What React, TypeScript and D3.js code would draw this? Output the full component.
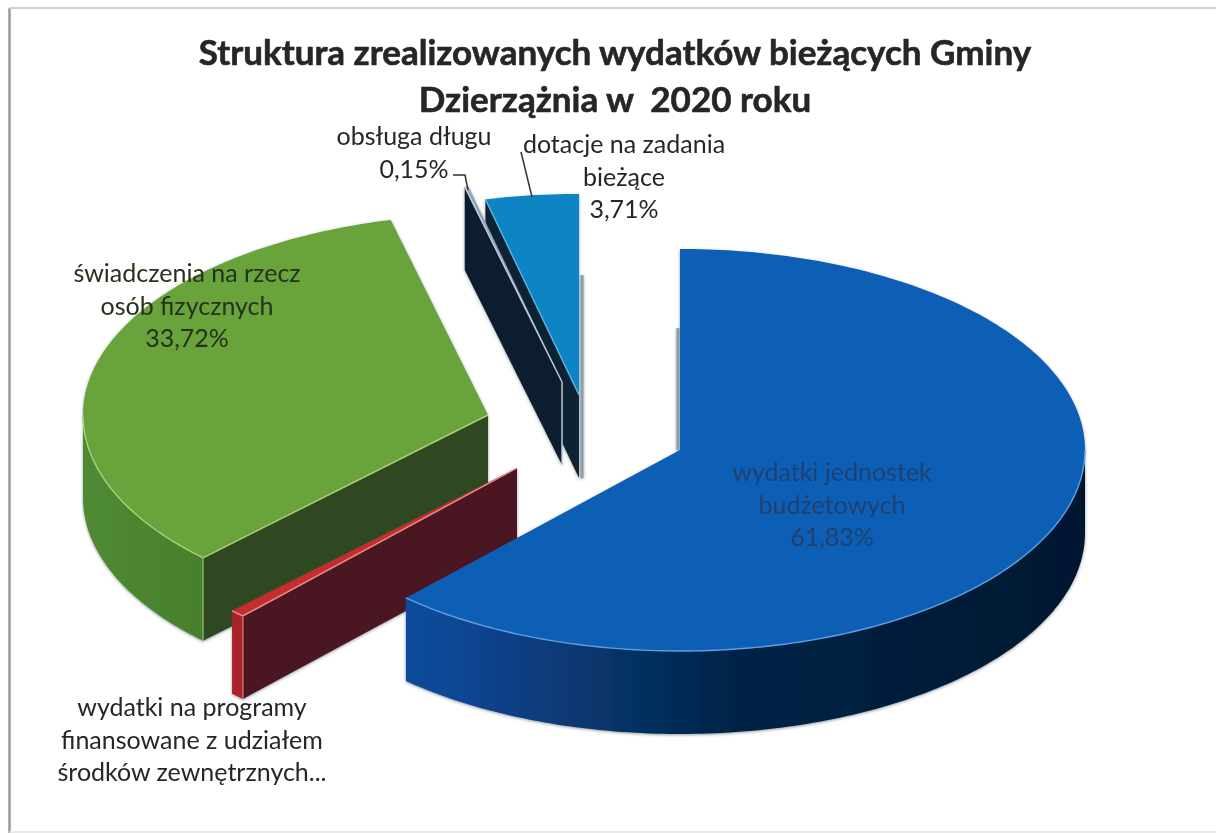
import * as d3 from 'd3';

// values (red one has no visible percent, it's the remainder)
const categories = [
  'wydatki jednostek budżetowych',
  'wydatki na programy finansowane z udziałem środków zewnętrznych...',
  'świadczenia na rzecz osób fizycznych',
  'obsługa długu',
  'dotacje na zadania bieżące',
];
const values = [61.83, 0.59, 33.72, 0.15, 3.71];
const titleLines = ['Struktura zrealizowanych wydatków bieżących Gminy', 'Dzierzążnia w  2020 roku'];

// layout
const width = 1216;
const height = 833;
const rx = 405;
const ry = 201;
const depth = 83;
const centers: [number, number][] = [[680, 450], [517, 468], [488, 415], [562, 382], [579, 395]];
const drawOrder = [4, 3, 2, 1, 0];

const topColors = ['#0a5eb6', '#c42d2e', '#69a33a', '#8fa3bd', '#0a84c4'];
const edgeColors = ['#5f9fe0', '#ec8f8c', '#a9d27c', '#c3d0dc', '#5fb6e2'];
const sideColors = ['#0a1e38', '#4a1622', '#2f4a23', '#0e1b2e', '#0a2433'];
const rimColors = ['url(#blueRim)', '#a8242b', 'url(#greenRim)', '#1b2c48', '#0a2433'];

const labelBlocks = [
  { lines: ['wydatki jednostek', 'budżetowych', '61,83%'], x: 832, y: 481, fill: '#1c4273' },
  { lines: ['wydatki na programy', 'finansowane z udziałem', 'środków zewnętrznych...'], x: 192, y: 716, fill: '#262626' },
  { lines: ['świadczenia na rzecz', 'osób fizycznych', '33,72%'], x: 187, y: 282, fill: '#26301e' },
  { lines: ['obsługa długu', '0,15%'], x: 414, y: 145, fill: '#262626' },
  { lines: ['dotacje na zadania', 'bieżące', '3,71%'], x: 624, y: 153, fill: '#262626' },
];

const pie = d3.pie<number>().sort(null).startAngle(0).endAngle(2 * Math.PI);
const arcs = pie(values);
const line = d3.line<[number, number]>();

// clock angle -> screen point on the squashed ellipse
const pt = (i: number, a: number, dy = 0): [number, number] => [
  centers[i][0] + rx * Math.sin(a),
  centers[i][1] - ry * Math.cos(a) + dy,
];

const sweep = (i: number, a0: number, a1: number, dy = 0) => {
  const n = Math.max(2, Math.ceil(Math.abs(a1 - a0) * 60));
  return d3.range(n + 1).map(k => pt(i, a0 + ((a1 - a0) * k) / n, dy));
};

const topPath = (i: number) =>
  line([centers[i], ...sweep(i, arcs[i].startAngle, arcs[i].endAngle)])! + 'Z';

// only the front part of the rim can be seen
const rimRange = (i: number): [number, number] | null => {
  const a0 = Math.max(arcs[i].startAngle, Math.PI / 2);
  const a1 = Math.min(arcs[i].endAngle, (3 * Math.PI) / 2);
  return a1 > a0 ? [a0, a1] : null;
};

const rimPath = (i: number) => {
  const r = rimRange(i);
  if (!r) return null;
  return line([...sweep(i, r[0], r[1]), ...sweep(i, r[1], r[0], depth)])! + 'Z';
};

// cut face on the start edge shows when the slice starts on the left half
const showsStartWall = (i: number) => arcs[i].startAngle > Math.PI;

const startWallPath = (i: number) => {
  const a = arcs[i].startAngle;
  const c = centers[i];
  const p = pt(i, a);
  return line([c, p, [p[0], p[1] + depth], [c[0], c[1] + depth]])! + 'Z';
};

export default function App() {
  return (
    <svg
      width={width}
      height={height}
      viewBox={`0 0 ${width} ${height}`}
      style={{ position: 'absolute', left: 0, top: 0, background: '#fff' }}
    >
      <defs>
        <linearGradient id="blueRim" gradientUnits="userSpaceOnUse" x1={408} x2={1086} y1={0} y2={0}>
          <stop offset="0" stopColor="#0c4c9c" />
          <stop offset="0.087" stopColor="#0b4592" />
          <stop offset="0.283" stopColor="#07356c" />
          <stop offset="0.48" stopColor="#032448" />
          <stop offset="1" stopColor="#02182f" />
        </linearGradient>
        <linearGradient id="greenRim" gradientUnits="userSpaceOnUse" x1={85} x2={205} y1={0} y2={0}>
          <stop offset="0" stopColor="#4f8a31" />
          <stop offset="1" stopColor="#47802c" />
        </linearGradient>
        <filter id="soft" filterUnits="userSpaceOnUse" x={0} y={0} width={width} height={height}>
          <feGaussianBlur stdDeviation={0.5} />
        </filter>
        <filter id="shadow" filterUnits="userSpaceOnUse" x={0} y={0} width={width} height={height}>
          <feDropShadow dx={0} dy={1} stdDeviation={1.6} floodColor="#3a4a55" floodOpacity={0.55} />
        </filter>
      </defs>

      <g filter="url(#soft)">
        <path d={`M9.5 ${height}V8`} fill="none" stroke="#9a9a9a" strokeWidth={2.5} />
        <path d={`M9 8H${width}`} fill="none" stroke="#cfcfcf" strokeWidth={2} />
        <path d={`M9 832H${width}`} fill="none" stroke="#e2e2e2" strokeWidth={1.5} />

        <text
          textAnchor="middle"
          fontFamily="Lato, Carlito, sans-serif"
          fontWeight={700}
          fontSize={35}
          fill="#262626"
          stroke="#262626"
          strokeWidth={0.6}
        >
          {titleLines.map((t, i) => (
            <tspan key={t} x={615} y={65 + i * 47} style={{ whiteSpace: 'pre' }}>
              {t}
            </tspan>
          ))}
        </text>

        {drawOrder.map(i => {
          const rim = rimPath(i);
          const r = rimRange(i);
          const p0 = pt(i, arcs[i].startAngle);
          const c = centers[i];
          return (
            <g key={categories[i]}>
              <g filter="url(#shadow)">
                {/* thin sliver on the vertical back edge of cyan and blue */}
                {(i === 0 || i === 4) && (
                  <path
                    d={
                      i === 4
                        ? line([[c[0] + 3, pt(i, 2 * Math.PI)[1] + depth - 2], [c[0] + 3, c[1] + depth]])!
                        : line([[c[0] - 2, c[1] - 122], [c[0] - 2, c[1]]])!
                    }
                    fill="none"
                    stroke="#8b9ea8"
                    strokeWidth={3}
                  />
                )}
                {showsStartWall(i) && <path d={startWallPath(i)} fill={sideColors[i]} />}
                {rim && <path d={rim} fill={rimColors[i]} />}
                <path d={topPath(i)} fill={topColors[i]} />
              </g>
              {r && (
                <path
                  d={line(sweep(i, r[0], r[1]))!}
                  fill="none"
                  stroke={edgeColors[i]}
                  strokeWidth={1.4}
                />
              )}
              {showsStartWall(i) && (
                <path d={line([c, p0])!} fill="none" stroke={edgeColors[i]} strokeWidth={1.4} />
              )}
              {(i === 1 || i === 2) && (
                <path
                  d={line([p0, [p0[0], p0[1] + depth]])!}
                  fill="none"
                  stroke={edgeColors[i]}
                  strokeWidth={1.2}
                  opacity={0.8}
                />
              )}
              {/* light seam down the inner corner of the navy sliver */}
              {i === 3 && (
                <path
                  d={line([c, [c[0], c[1] + depth]])!}
                  fill="none"
                  stroke={edgeColors[i]}
                  strokeWidth={1.4}
                />
              )}
            </g>
          );
        })}

        {/* leader lines */}
        <path
          d={line([[453, 175], [465, 175], [468, 190]])!}
          fill="none"
          stroke="#333"
          strokeWidth={1.5}
        />
        <path d={line([[521, 152], [532, 197]])!} fill="none" stroke="#333" strokeWidth={1.5} />

        <g textAnchor="middle" fontFamily="Lato, Carlito, sans-serif" fontSize={25}>
          {labelBlocks.map(b => (
            <text key={b.lines[0]} fill={b.fill}>
              {b.lines.map((l, k) => (
                <tspan key={l} x={b.x} y={b.y + k * 32.5}>
                  {l}
                </tspan>
              ))}
            </text>
          ))}
        </g>
      </g>
    </svg>
  );
}
